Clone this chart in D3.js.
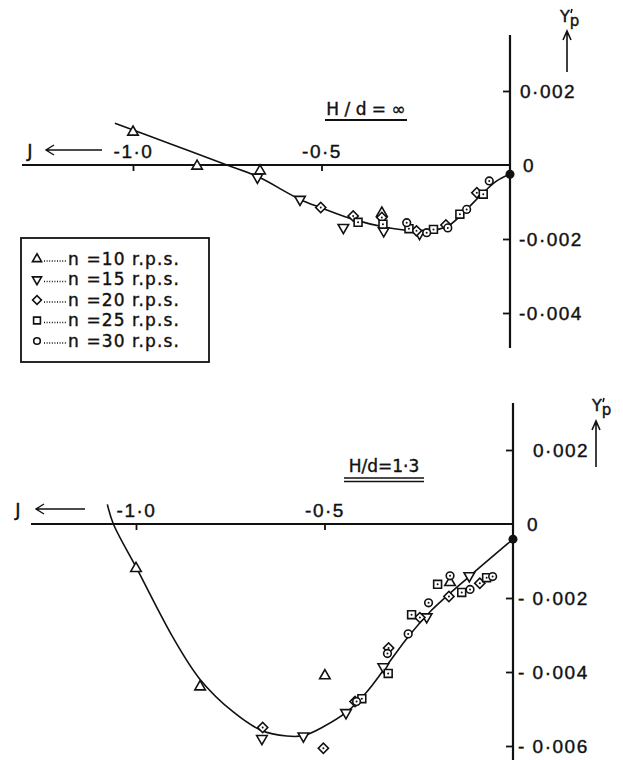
<!DOCTYPE html>
<html>
<head>
<meta charset="utf-8">
<title>Y'p against J</title>
<script src="https://d3js.org/d3.v7.min.js"></script>
<style>
  body { margin: 0; background: #fff; }
  svg { font-family: "DejaVu Sans", sans-serif; }
  .axisline { stroke: #111; stroke-width: 2.2; fill: none; }
  .tick line { stroke: #111; stroke-width: 1.8; }
  .tick text { font-size: 19px; fill: #111; letter-spacing: 1.5px; stroke: #111; stroke-width: 0.4; }
  .curve { stroke: #111; stroke-width: 1.6; fill: none; }
  .mark { stroke: #111; stroke-width: 1.6; fill: #fff; }
  .lbl { font-size: 18px; fill: #111; stroke: #111; stroke-width: 0.4; }
</style>
</head>
<body>
<svg id="chart" width="623" height="760"></svg>
<script>
// ---- data ----
var ticksJ = [-1.0, -0.5];
var ticksTopY = [0.002, 0, -0.002, -0.004];
var ticksBotY = [0.002, 0, -0.002, -0.004, -0.006];
var legendLabels = ["n =10  r.p.s.", "n =15  r.p.s.", "n =20  r.p.s.", "n =25  r.p.s.", "n =30  r.p.s."];
var legendShapes = ["up", "down", "diamond", "square", "circle"];

// H/d = infinity
var topCurve = [[-1.048, 0.00113], [-0.9, 0.00057], [-0.751, 0], [-0.672, -0.0003],
  [-0.557, -0.00093], [-0.5, -0.00116], [-0.416, -0.00147], [-0.327, -0.00169], [-0.25, -0.00178],
  [-0.2, -0.00176], [-0.16, -0.00162], [-0.115, -0.0012], [-0.071, -0.00075], [-0.035, -0.00043], [0, -0.00025]];
var topN10 = [[-1.0, 0.00089], [-0.83, -0.00003], [-0.663, -0.00016], [-0.34, -0.0013]];
var topN15 = [[-0.67, -0.00033], [-0.557, -0.00093], [-0.442, -0.00169], [-0.335, -0.00178], [-0.24, -0.00185]];
var topN20 = [[-0.502, -0.00115], [-0.416, -0.00138], [-0.34, -0.00142], [-0.248, -0.00178], [-0.17, -0.00162], [-0.088, -0.00075]];
var topN25 = [[-0.403, -0.00155], [-0.337, -0.0016], [-0.268, -0.00172], [-0.203, -0.00174], [-0.133, -0.00133], [-0.071, -0.00079]];
var topN30 = [[-0.274, -0.00156], [-0.221, -0.00183], [-0.165, -0.0017], [-0.115, -0.0012], [-0.055, -0.00043]];
var topEnd = [0, -0.00025];

// H/d = 1.3
var botCurve = [[-1.076, 0.00053], [-1.06, 0], [-0.998, -0.0012], [-0.9, -0.0031], [-0.83, -0.0042],
  [-0.742, -0.00508], [-0.667, -0.00558], [-0.6, -0.00573], [-0.556, -0.00572], [-0.503, -0.00548],
  [-0.441, -0.00508], [-0.388, -0.00454], [-0.34, -0.0039], [-0.282, -0.0031], [-0.22, -0.00237],
  [-0.114, -0.0014], [0, -0.00041]];
var botN10 = [[-1.0, -0.0012], [-0.83, -0.0044], [-0.499, -0.0041], [-0.167, -0.00158]];
var botN15 = [[-0.666, -0.0058], [-0.556, -0.00573], [-0.443, -0.0051], [-0.344, -0.00386], [-0.229, -0.00251], [-0.116, -0.0014]];
var botN20 = [[-0.664, -0.0055], [-0.503, -0.00606], [-0.419, -0.0048], [-0.33, -0.00335], [-0.247, -0.00253], [-0.17, -0.00196], [-0.088, -0.0016]];
var botN25 = [[-0.401, -0.00472], [-0.331, -0.00404], [-0.269, -0.00245], [-0.2, -0.00163], [-0.136, -0.00185], [-0.07, -0.00145]];
var botN30 = [[-0.415, -0.0048], [-0.333, -0.0035], [-0.278, -0.00297], [-0.224, -0.00213], [-0.167, -0.0014], [-0.114, -0.00177], [-0.054, -0.00142]];
var botEnd = [0, -0.00041];

var svg = d3.select("#chart");

function symPath(kind, s) {
  s = s || 1;
  if (kind == "up" || kind == "down") return d3.symbol().type(d3.symbolTriangle).size(48 * s)();
  if (kind == "diamond") return d3.symbol().type(d3.symbolSquare).size(52 * s)();
  if (kind == "square") return d3.symbol().type(d3.symbolSquare).size(62 * s)();
  return d3.symbol().type(d3.symbolCircle).size(46 * s)();
}
function symRot(kind) {
  return kind == "down" ? " rotate(180)" : (kind == "diamond" ? " rotate(45)" : "");
}

function drawMarks(g, x, y, pts, kind) {
  var m = g.append("g").selectAll("g").data(pts).enter().append("g")
    .attr("transform", function(d) { return "translate(" + x(d[0]) + "," + y(d[1]) + ")"; });
  m.append("path").attr("class", "mark")
    .attr("d", symPath(kind))
    .attr("transform", symRot(kind).trim());
  if (kind != "up" && kind != "down")
    m.append("circle").attr("r", 1).attr("fill", "#111");
}

function fmtY(spaced) {
  return function(d) {
    if (d == 0) return "0";
    var s = Math.abs(d).toFixed(3).replace(".", "\u00b7");
    return d < 0 ? (spaced ? "- " : "-") + s : s;
  };
}

function panel(cfg) {
  var x = d3.scaleLinear().domain([-1, 0]).range(cfg.xr);
  var y = d3.scaleLinear().domain([cfg.yd[0], cfg.yd[1]]).range(cfg.yr);
  var g = svg.append("g");
  var x0 = x(0), y0 = y(0);

  // axis lines
  g.append("line").attr("class", "axisline")
    .attr("x1", cfg.left).attr("x2", x0).attr("y1", y0).attr("y2", y0);
  g.append("line").attr("class", "axisline")
    .attr("x1", x0).attr("x2", x0).attr("y1", cfg.top).attr("y2", cfg.bottom);

  // y ticks, labels to the right of the axis
  var ya = g.append("g").attr("transform", "translate(" + x0 + ",0)")
    .call(d3.axisRight(y).tickValues(cfg.yticks).tickSizeInner(-7).tickSizeOuter(0)
      .tickPadding(cfg.ypad).tickFormat(fmtY(cfg.spaced)));
  ya.select(".domain").remove();
  ya.selectAll(".tick").filter(function(d) { return d == 0; }).select("line").remove();
  ya.selectAll(".tick").filter(function(d) { return d == 0; }).select("text")
    .attr("x", cfg.zeroDx);
  ya.selectAll(".tick").filter(function(d) { return d == cfg.yticks[0]; }).select("text")
    .attr("x", cfg.firstDx);

  // x ticks, labels above the axis
  var xa = g.append("g").attr("transform", "translate(0," + y0 + ")")
    .call(d3.axisBottom(x).tickValues(ticksJ).tickSizeInner(6).tickSizeOuter(0)
      .tickFormat(function(d) { return "-" + Math.abs(d).toFixed(1).replace(".", "\u00b7"); }));
  xa.select(".domain").remove();
  xa.selectAll("text").attr("y", -14).attr("dy", "0.35em");

  // J arrow
  g.append("text").attr("class", "lbl").attr("x", cfg.jx).attr("y", y0 - 14).attr("dy", "0.35em")
    .attr("text-anchor", "middle").text("J");
  g.append("path").attr("stroke", "#111").attr("stroke-width", 1.4).attr("fill", "none")
    .attr("d", "M" + cfg.jarrow[1] + "," + (y0 - 15) + "H" + cfg.jarrow[0] +
      "M" + (cfg.jarrow[0] + 8) + "," + (y0 - 20) + "L" + cfg.jarrow[0] + "," + (y0 - 15) +
      "L" + (cfg.jarrow[0] + 8) + "," + (y0 - 10));

  // Y'p label (prime drawn as a short stroke) and arrow
  var yl = g.append("text").attr("class", "lbl").attr("x", cfg.ylab[0] - 6).attr("y", cfg.ylab[1])
    .style("font-size", "16px");
  yl.append("tspan").text("Y");
  yl.append("tspan").attr("dx", 0).attr("dy", 4).style("font-size", "15px").text("p");
  g.append("line").attr("stroke", "#111").attr("stroke-width", 1.6)
    .attr("x1", cfg.ylab[0] + 6).attr("x2", cfg.ylab[0] + 5)
    .attr("y1", cfg.ylab[1] - 13).attr("y2", cfg.ylab[1] - 9);
  g.append("path").attr("stroke", "#111").attr("stroke-width", 1.6).attr("fill", "none")
    .attr("d", "M" + cfg.yarrow[0] + "," + cfg.yarrow[2] + "V" + cfg.yarrow[1] +
      "M" + (cfg.yarrow[0] - 4) + "," + (cfg.yarrow[1] + 9) + "L" + cfg.yarrow[0] + "," + cfg.yarrow[1] +
      "L" + (cfg.yarrow[0] + 4) + "," + (cfg.yarrow[1] + 9));

  // title with underline
  g.append("text").attr("class", "lbl").attr("x", cfg.title[0]).attr("y", cfg.title[1])
    .attr("text-anchor", "middle").style("font-size", "17px").text(cfg.titleText);
  cfg.under.forEach(function(u) {
    g.append("line").attr("stroke", "#111").attr("stroke-width", u[1])
      .attr("x1", cfg.title[0] - cfg.ulen / 2).attr("x2", cfg.title[0] + cfg.ulen / 2)
      .attr("y1", u[0]).attr("y2", u[0]);
  });

  // fitted curve
  var line = d3.line().x(function(d) { return x(d[0]); }).y(function(d) { return y(d[1]); })
    .curve(d3.curveCatmullRom.alpha(0.5));
  g.append("path").attr("class", "curve").attr("d", line(cfg.curve));

  // measured points
  cfg.series.forEach(function(s, i) { drawMarks(g, x, y, s, legendShapes[i]); });
  g.append("circle").attr("cx", x(cfg.end[0])).attr("cy", y(cfg.end[1])).attr("r", 4.5).attr("fill", "#111");
}

panel({
  xr: [133, 510], yd: [-0.004, 0.002], yr: [313, 91], left: 22, top: 35, bottom: 348,
  yticks: ticksTopY, ypad: 9, zeroDx: 13, firstDx: 10, spaced: false,
  jx: 30, jarrow: [46, 102], ylab: [566, 22], yarrow: [567, 31, 72],
  title: [366, 115], titleText: "H / d = \u221e", ulen: 82, under: [[120, 2.2]],
  curve: topCurve, series: [topN10, topN15, topN20, topN25, topN30], end: topEnd
});

panel({
  xr: [136, 513], yd: [-0.006, 0.002], yr: [746, 450], left: 31, top: 403, bottom: 760,
  yticks: ticksBotY, ypad: 5, zeroDx: 14, firstDx: 20, spaced: true,
  jx: 18, jarrow: [36, 85], ylab: [598, 411], yarrow: [596, 421, 467],
  title: [384, 472], titleText: "H/d=1\u00b73", ulen: 80, under: [[478, 1.5], [481.5, 1.5]],
  curve: botCurve, series: [botN10, botN15, botN20, botN25, botN30], end: botEnd
});

// legend
var lg = svg.append("g");
lg.append("rect").attr("x", 21).attr("y", 238).attr("width", 188).attr("height", 124)
  .attr("fill", "none").attr("stroke", "#111").attr("stroke-width", 1.8);
var rows = lg.selectAll("g.row").data(legendLabels).enter().append("g")
  .attr("transform", function(d, i) { return "translate(0," + (259 + i * 20.5) + ")"; });
rows.append("path").attr("class", "mark")
  .attr("d", function(d, i) { return symPath(legendShapes[i], 0.75); })
  .attr("transform", function(d, i) { return "translate(37,0)" + symRot(legendShapes[i]); });
rows.append("line").attr("x1", 44).attr("x2", 66).attr("y1", 2).attr("y2", 2)
  .attr("stroke", "#111").attr("stroke-width", 1.3).attr("stroke-dasharray", "1,1.6");
rows.append("text").attr("class", "lbl").attr("x", 68).attr("dy", "0.35em")
  .style("font-size", "17px").style("letter-spacing", "1.1px").text(function(d) { return d; });
</script>
</body>
</html>
